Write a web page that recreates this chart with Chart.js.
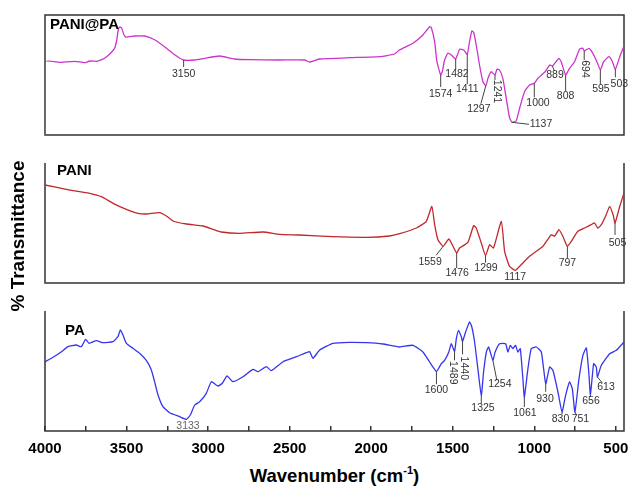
<!DOCTYPE html>
<html><head><meta charset="utf-8">
<script src="https://cdn.jsdelivr.net/npm/chart.js@4.4.0/dist/chart.umd.min.js"></script>
<style>
body{margin:0;background:#fff;}
#wrap{position:relative;width:629px;height:486px;overflow:hidden;font-family:"Liberation Sans",Arial,sans-serif;background:#fff;}
canvas{position:absolute;left:0;}
.title{position:absolute;font-weight:bold;font-size:18.5px;color:#000;white-space:nowrap;text-align:center;line-height:22px;}
.title sup{font-size:11px;line-height:0;vertical-align:8px;}
</style></head>
<body><div id="wrap">
<canvas id="cTop" width="629" height="150" style="top:0px"></canvas>
<canvas id="cMid" width="629" height="150" style="top:150px"></canvas>
<canvas id="cBot" width="629" height="160" style="top:300px"></canvas>
<div class="title" id="xTitle" style="left:45px;width:579px;top:465px">Wavenumber (cm<sup>-1</sup>)</div>
<div class="title" id="yTitle" style="left:-82px;top:225px;width:200px;font-size:19px;transform:rotate(-90deg)">% Transmittance</div>
</div>
<script>
// ---------- data ----------
const xMin = 450, xMax = 4000;
const xTicks = [500,750,1000,1250,1500,1750,2000,2250,2500,2750,3000,3250,3500,3750,4000];
const panelNames = ['PANI@PA', 'PANI', 'PA'];

const wnPANIPA = [4000,4000,3910,3818,3757,3726,3683,3652,3622,3591,3573,3560,3551,3542,3530,3518,3505,3450,3389,3328,3267,3205,3150,3082,3021,2929,2838,2746,2562,2409,2378,2348,2317,2133,1949,1857,1827,1744,1683,1642,1631,1611,1597,1574,1564,1550,1530,1509,1482,1470,1458,1433,1411,1397,1383,1372,1356,1336,1315,1297,1284,1264,1241,1229,1213,1193,1172,1152,1137,1111,1090,1060,1029,1000,978,937,905,889,849,835,808,784,753,722,702,694,665,641,616,595,575,542,521,503,476,452];
const tPANIPA  = [0,73.3,72.7,73.7,72.3,74,73.7,75.3,78.3,83,86.7,95,105,108,107,101,98,99,99,95.3,88.3,80.3,75,75,76.7,79,76,75.3,75,75,73,74.3,76,77.3,78.3,81,85,91.7,100,108.3,107.3,93.3,73.3,60,63.3,75,81.7,80,76,80.7,85.7,85,80.7,93.3,104,102.7,90,70,53.3,49.3,56.7,63.3,60,65.7,65,56.7,36.7,17.5,12.7,14,26.7,43.3,50,51.7,56.7,62.7,70,69,76.7,73.3,60,66.7,73.3,86,86.7,84,86.7,81.7,73.3,65,73.3,78.3,73.3,65.7,78.3,88.3];

const wnPANI = [4000,3869,3787,3726,3654,3583,3501,3430,3378,3297,3256,3215,3133,3031,2970,2919,2807,2663,2561,2439,2236,2030,1888,1826,1723,1662,1628,1611,1591,1559,1524,1503,1476,1458,1407,1372,1356,1325,1299,1274,1250,1202,1182,1152,1117,1090,1029,947,896,876,849,825,797,773,733,692,651,631,610,589,559,538,517,505,476,450];
const tPANI  = [98,93.7,91.3,89.7,86.3,79.7,73.7,69.7,69,70.3,67,62,59,57,53.7,51,49.7,51,48.7,48,46.3,45.7,47,49.3,55,61.7,76.7,58.3,43.3,36.7,44,38.3,30,35,40.7,57.3,55,40,27.3,38.3,35,61.7,31.7,16.7,12.7,16.7,26.7,36.7,48.3,46.7,53.3,46.7,36.7,41.7,51.7,55,58.3,60,55,58.3,68.3,76.7,68.3,60,76.7,90];

const wnPA = [4000,3951,3899,3859,3808,3777,3751,3730,3685,3644,3583,3553,3538,3522,3501,3461,3420,3378,3348,3328,3307,3277,3236,3174,3133,3109,3082,3052,3011,2980,2940,2913,2884,2848,2786,2725,2694,2643,2612,2541,2459,2398,2377,2357,2316,2235,2132,2030,1928,1826,1744,1683,1642,1600,1570,1550,1524,1509,1489,1478,1464,1447,1440,1421,1397,1383,1366,1346,1325,1311,1294,1280,1254,1240,1213,1176,1162,1147,1131,1115,1101,1086,1070,1061,1039,1019,988,957,930,906,886,855,830,808,784,767,751,726,702,681,666,656,636,620,613,589,538,497,450];
const tPA  = [69.3,73.7,79.3,84.3,86,84.3,91.7,87.7,90.3,88.3,89.3,94.3,101,96,87.7,82.7,77.7,70.3,61,49.3,36,24.3,18.3,14.3,11.7,16,26,29.3,37.7,49.3,45,47.7,55,49.3,54.3,61.7,59.3,64.3,60.3,69.3,74.3,78.3,79.3,72.7,81,87.7,88.7,88.3,87,84,85.7,79,69,59.7,67.3,70.7,79,87.3,79.7,92.3,100.7,94,89.7,99,109,104,89,62.3,35.7,59,79,84,70.7,79,87.3,87.3,79,85.7,82.3,85.7,79,82.3,52.3,34,62.3,82.3,84,79,47.3,64,60.7,39,19,35.7,49,42.3,19,52.3,75.7,83,59,36.3,67.3,64,54,65.7,77.3,80.7,89];

const peaksPANIPA = [3150,1574,1482,1411,1297,1241,1137,1000,889,808,694,595,503];
const peaksPANI   = [1559,1476,1299,1117,797,505];
const peaksPA     = [3133,1600,1489,1440,1325,1254,1061,930,830,751,656,613];

// ---------- label layout (pixel offsets from the curve point): [lineDx, lineDy, textDx, textDy, rotated] ----------
const layoutPANIPA = [[0,7,0,14,0],[0,12,0,19,0],[0,11,1.3,15,0],[0,30,0,35,0],[-5,18,-7,23,0],[0,5,1.7,16.5,1],[17,2,29,2,0],[0,14,3.7,20,0],[2,5,2.6,9,0],[0,16,0,21,0],[0,9,1,18,1],[0,14,0.6,19,0],[0,8,4,15,0]];
const layoutPANI   = [[-7,9,-13,16,0],[0,15,0.5,20,0],[0,7,0.5,12,0],[0,0,0,7,0],[0,12,0,17,0],[0,12,2.5,20,0]];
const layoutPA     = [[0,0,1.6,7,0],[0,13,0,19,0],[0,9,-1.5,21.5,1],[0,13,1.5,27,1],[0,8,1.7,13,0],[4,20,7,24,0],[0,10,0.6,16,0],[0,8,-0.7,15,0],[0,2,-1.5,7.5,0],[1.5,3,5.5,7.5,0],[0,2,0.6,6.5,0],[5,6,8.6,10,0]];

const FONT = '"Liberation Sans", Arial, sans-serif';

function interp(xs, ys, w) {
  for (let i = 0; i < xs.length - 1; i++) {
    const a = xs[i], b = xs[i + 1];
    if (w <= a && w >= b) {
      if (a === b) return ys[i + 1];
      const t = (a - w) / (a - b);
      return ys[i] + t * (ys[i + 1] - ys[i]);
    }
  }
  return ys[ys.length - 1];
}

const panelPlugin = {
  id: 'panel',
  beforeDatasetsDraw(chart, args, o) {
    const ctx = chart.ctx, a = chart.chartArea;
    ctx.save();
    ctx.strokeStyle = '#333';
    ctx.lineWidth = 1.5;
    ctx.beginPath();
    ctx.moveTo(a.left, a.top);
    ctx.lineTo(a.left, a.bottom);
    ctx.lineTo(a.right, a.bottom);
    ctx.lineTo(a.right, a.top);
    if (o.boxTop) ctx.closePath();
    ctx.stroke();
    ctx.restore();
  },
  afterDatasetsDraw(chart, args, o) {
    const ctx = chart.ctx, a = chart.chartArea;
    const xs = chart.scales.x, ys = chart.scales.y;
    ctx.save();
    ctx.fillStyle = '#000';
    ctx.font = 'bold 15px ' + FONT;
    ctx.textAlign = 'left';
    ctx.textBaseline = 'middle';
    ctx.fillText(o.name, a.left + o.nameDx, a.top + o.nameDy);
    ctx.font = '10.5px ' + FONT;
    ctx.textAlign = 'center';
    ctx.strokeStyle = '#444';
    ctx.lineWidth = 1;
    o.peaks.forEach((p, i) => {
      const L = o.layout[i];
      const px = xs.getPixelForValue(p);
      const py = ys.getPixelForValue(interp(o.wn, o.t, p));
      if (L[0] || L[1]) {
        ctx.beginPath();
        ctx.moveTo(px, py);
        ctx.lineTo(px + L[0], py + L[1]);
        ctx.stroke();
      }
      ctx.fillStyle = (o.grey && o.grey.includes(p)) ? '#666' : '#333';
      ctx.save();
      ctx.translate(px + L[2], py + L[3]);
      if (L[4]) ctx.rotate(Math.PI / 2);
      ctx.fillText(String(p), 0, 0);
      ctx.restore();
    });
    ctx.restore();
  }
};

function makeChart(id, wn, t, color, panelOpts, padding, bottomAxis) {
  const xScale = bottomAxis ? {
    type: 'linear', reverse: true, min: xMin, max: xMax, position: 'bottom',
    afterBuildTicks: s => { s.ticks = xTicks.map(v => ({ value: v })); },
    afterFit: s => { s.height = 25; },
    border: { display: false },
    grid: { display: true, drawOnChartArea: false, drawTicks: true, tickLength: -5, color: '#333', lineWidth: 1.5 },
    ticks: { autoSkip: false, maxRotation: 0, padding: 14, color: '#000',
      font: { family: FONT, size: 15, weight: 'bold' },
      callback: v => (v % 500 === 0 ? String(v) : '') }
  } : { type: 'linear', reverse: true, min: xMin, max: xMax, display: false };
  return new Chart(document.getElementById(id), {
    type: 'scatter',
    data: { datasets: [{
      data: wn.map((w, i) => ({ x: w, y: t[i] })),
      showLine: true, borderColor: color, borderWidth: 1.3,
      pointRadius: 0, pointHoverRadius: 0, tension: 0.15, fill: false
    }] },
    options: {
      responsive: false, animation: false, devicePixelRatio: 1, events: [],
      layout: { padding },
      plugins: { legend: { display: false }, tooltip: { enabled: false }, panel: panelOpts },
      scales: { x: xScale, y: { type: 'linear', min: 0, max: 120, display: false } }
    },
    plugins: [panelPlugin]
  });
}

makeChart('cTop', wnPANIPA, tPANIPA, '#cc33cc',
  { boxTop: true, name: panelNames[0], nameDx: 5, nameDy: 10, peaks: peaksPANIPA, layout: layoutPANIPA, wn: wnPANIPA, t: tPANIPA },
  { left: 45, right: 5, top: 15, bottom: 15 }, false);
makeChart('cMid', wnPANI, tPANI, '#c0282d',
  { boxTop: false, name: panelNames[1], nameDx: 12, nameDy: 8, peaks: peaksPANI, layout: layoutPANI, wn: wnPANI, t: tPANI },
  { left: 45, right: 5, top: 13, bottom: 17 }, false);
makeChart('cBot', wnPA, tPA, '#3535ee',
  { boxTop: false, name: panelNames[2], nameDx: 20, nameDy: 20, peaks: peaksPA, layout: layoutPA, wn: wnPA, t: tPA, grey: [3133] },
  { left: 45, right: 5, top: 11, bottom: 4 }, true);
</script>
</body></html>
